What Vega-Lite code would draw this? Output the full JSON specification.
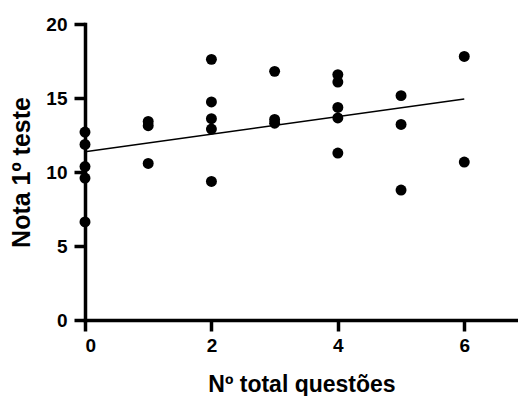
{
  "$schema": "https://vega.github.io/schema/vega-lite/v6.json",
  "autosize": {"type": "none"},
  "padding": {"left": 85, "top": 24, "right": 0, "bottom": 76},
  "width": 433,
  "height": 296,
  "config": {
    "view": {"stroke": null},
    "font": "Liberation Sans"
  },
  "datasets": {
    "pts": [
      {"q": 0, "nota": 12.7}, {"q": 0, "nota": 11.86}, {"q": 0, "nota": 10.37}, {"q": 0, "nota": 9.59}, {"q": 0, "nota": 6.63},
      {"q": 1, "nota": 13.42}, {"q": 1, "nota": 13.13}, {"q": 1, "nota": 10.58},
      {"q": 2, "nota": 17.61}, {"q": 2, "nota": 14.73}, {"q": 2, "nota": 13.6}, {"q": 2, "nota": 12.9}, {"q": 2, "nota": 9.36},
      {"q": 3, "nota": 16.8}, {"q": 3, "nota": 13.55}, {"q": 3, "nota": 13.3},
      {"q": 4, "nota": 16.58}, {"q": 4, "nota": 16.08}, {"q": 4, "nota": 14.36}, {"q": 4, "nota": 13.65}, {"q": 4, "nota": 11.28},
      {"q": 5, "nota": 15.16}, {"q": 5, "nota": 13.21}, {"q": 5, "nota": 8.78},
      {"q": 6, "nota": 17.81}, {"q": 6, "nota": 10.67}
    ],
    "fit": [{"q": 0, "nota": 11.37}, {"q": 6, "nota": 14.93}]
  },
  "encoding": {
    "x": {"field": "q", "type": "quantitative", "scale": {"domain": [0, 6.85], "nice": false},
      "axis": {"values": [0, 2, 4, 6], "format": "d", "grid": false,
        "domainColor": "#000000", "domainWidth": 3.5, "domainCap": "square", "tickColor": "#000000", "tickWidth": 3.5, "tickSize": 11,
        "labelFont": "Arial", "labelFontWeight": "bold", "labelFontSize": 19, "labelColor": "#000000", "labelPadding": 5,
        "title": "Nº total questões", "titleFont": "Arial", "titleFontWeight": "bold", "titleColor": "#000000", "titleFontSize": 23, "titlePadding": 18}},
    "y": {"field": "nota", "type": "quantitative", "scale": {"domain": [0, 20], "nice": false},
      "axis": {"values": [0, 5, 10, 15, 20], "format": "d", "grid": false,
        "domainColor": "#000000", "domainWidth": 3.5, "domainCap": "square", "tickColor": "#000000", "tickWidth": 3.5, "tickSize": 11,
        "labelFont": "Arial", "labelFontWeight": "bold", "labelFontSize": 19, "labelColor": "#000000", "labelPadding": 7,
        "title": "Nota 1º teste", "titleFont": "Arial", "titleFontWeight": "bold", "titleColor": "#000000", "titleFontSize": 25, "titlePadding": 11}}
  },
  "layer": [
    {
      "data": {"name": "fit"},
      "mark": {"type": "line", "color": "black", "strokeWidth": 1.5}
    },
    {
      "data": {"name": "pts"},
      "mark": {"type": "point", "filled": true, "color": "black", "opacity": 1, "size": 120, "clip": false}
    }
  ]
}
